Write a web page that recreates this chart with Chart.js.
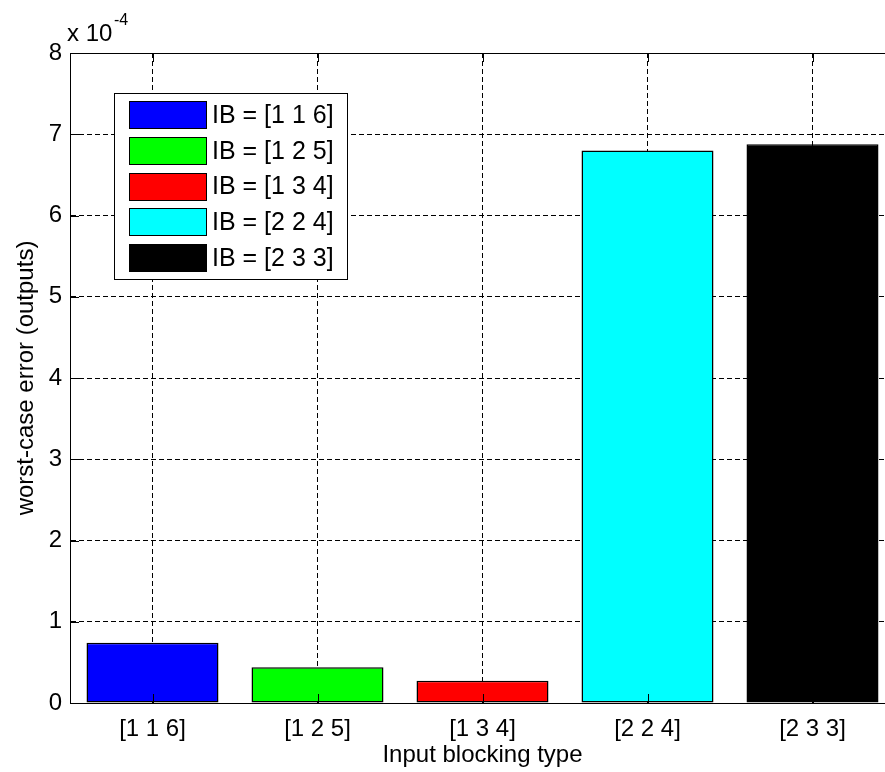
<!DOCTYPE html>
<html>
<head>
<meta charset="utf-8">
<script src="https://cdn.jsdelivr.net/npm/chart.js@4/dist/chart.umd.min.js"></script>
<style>
  html, body { margin: 0; padding: 0; background: #fff; overflow: hidden; }
  #wrap { width: 900px; height: 772px; }
</style>
</head>
<body>
<div id="wrap"><canvas id="myChart" width="900" height="772"></canvas></div>
<script>
// data (values are absolute, axis shows x 10^-4)
const categories = ["[1 1 6]", "[1 2 5]", "[1 3 4]", "[2 2 4]", "[2 3 3]"];
const errVals = [0.742e-4, 0.440e-4, 0.275e-4, 6.800e-4, 6.876e-4];
const barColors = ["#0000ff", "#00ff00", "#ff0000", "#00ffff", "#000000"];
const legendLabels = categories.map(c => "IB = " + c);
const yTicks = [0, 1, 2, 3, 4, 5, 6, 7, 8];
const yScale = 1e-4;

const FONT = "'Liberation Sans', Arial, sans-serif";
const FS = 24;

// axes box, inward ticks, exponent label
const boxPlugin = {
  id: "matlabBox",
  afterDatasetsDraw(chart) {
    const ctx = chart.ctx;
    const a = chart.chartArea;
    const xs = chart.scales.x, ys = chart.scales.y;
    ctx.save();
    ctx.strokeStyle = "#000";
    ctx.lineWidth = 1;
    ctx.beginPath();
    ctx.moveTo(a.left + 0.5, a.bottom + 0.5);
    ctx.lineTo(a.left + 0.5, a.top + 0.5);
    ctx.lineTo(a.right + 0.5, a.top + 0.5);
    ctx.stroke();
    // inward y ticks
    ctx.beginPath();
    yTicks.forEach(t => {
      const y = Math.round(ys.getPixelForValue(t * yScale)) + 0.5;
      ctx.moveTo(a.left, y);
      ctx.lineTo(a.left + 9, y);
    });
    // inward x ticks top and bottom
    categories.forEach((c, i) => {
      const x = Math.round(xs.getPixelForValue(i)) + 0.5;
      ctx.moveTo(x, a.top);
      ctx.lineTo(x, a.top + 9);
      ctx.moveTo(x, a.bottom);
      ctx.lineTo(x, a.bottom - 9);
    });
    ctx.stroke();
    // exponent
    ctx.fillStyle = "#000";
    ctx.textBaseline = "alphabetic";
    ctx.textAlign = "left";
    ctx.font = FS + "px " + FONT;
    ctx.fillText("x 10", 67, 41);
    ctx.font = "16px " + FONT;
    ctx.fillText("-4", 114, 25);
    ctx.restore();
  }
};

// legend box inside the axes
const legendPlugin = {
  id: "matlabLegend",
  afterDraw(chart) {
    const ctx = chart.ctx;
    const bx = 114.5, by = 93.5, bw = 233, bh = 186;
    ctx.save();
    ctx.fillStyle = "#fff";
    ctx.fillRect(bx, by, bw, bh);
    ctx.strokeStyle = "#000";
    ctx.lineWidth = 1;
    ctx.strokeRect(bx, by, bw, bh);
    ctx.font = "25px " + FONT;
    ctx.textBaseline = "middle";
    ctx.textAlign = "left";
    legendLabels.forEach((lab, i) => {
      const top = 101 + i * 35.8;
      ctx.fillStyle = barColors[i];
      ctx.fillRect(129.5, Math.round(top) + 0.5, 77, 27);
      ctx.strokeStyle = "#000";
      ctx.strokeRect(129.5, Math.round(top) + 0.5, 77, 27);
      ctx.fillStyle = "#000";
      ctx.fillText(lab, 212, top + 15);
    });
    ctx.restore();
  }
};

const ctx = document.getElementById("myChart").getContext("2d");
const chart = new Chart(ctx, {
  type: "bar",
  data: {
    labels: categories,
    datasets: [{
      label: "worst-case error",
      data: errVals,
      backgroundColor: barColors,
      borderColor: "#000",
      borderWidth: 1.5,
      borderSkipped: false,
      barPercentage: 0.8,
      categoryPercentage: 1.0
    }]
  },
  options: {
    responsive: false,
    animation: false,
    devicePixelRatio: 1,
    layout: { padding: { top: 53, right: 5, left: 0, bottom: 0 } },
    plugins: {
      legend: { display: false },
      tooltip: { enabled: false }
    },
    scales: {
      x: {
        offset: true,
        grid: {
          offset: false,
          color: "#000",
          lineWidth: 1,
          drawTicks: false
        },
        border: { display: true, color: "#000", width: 1, dash: [5, 3] },
        ticks: {
          color: "#000",
          padding: 12,
          font: { family: FONT, size: FS }
        },
        title: {
          display: true,
          text: "Input blocking type",
          color: "#000",
          padding: { top: 0, bottom: 2 },
          font: { family: FONT, size: FS }
        },
        afterFit(scale) { scale.height = 69; }
      },
      y: {
        min: 0,
        max: 8 * yScale,
        grid: {
          color: "#000",
          lineWidth: 1,
          drawTicks: false
        },
        border: { display: true, color: "#000", width: 1, dash: [5, 3] },
        ticks: {
          stepSize: yScale,
          color: "#000",
          padding: 8,
          font: { family: FONT, size: FS },
          callback: v => Math.round(v / yScale)
        },
        title: {
          display: true,
          text: "worst-case error (outputs)",
          color: "#000",
          padding: { top: 12, bottom: 0 },
          font: { family: FONT, size: FS }
        },
        afterFit(scale) { scale.width = 70; }
      }
    }
  },
  plugins: [boxPlugin, legendPlugin]
});
</script>
</body>
</html>
